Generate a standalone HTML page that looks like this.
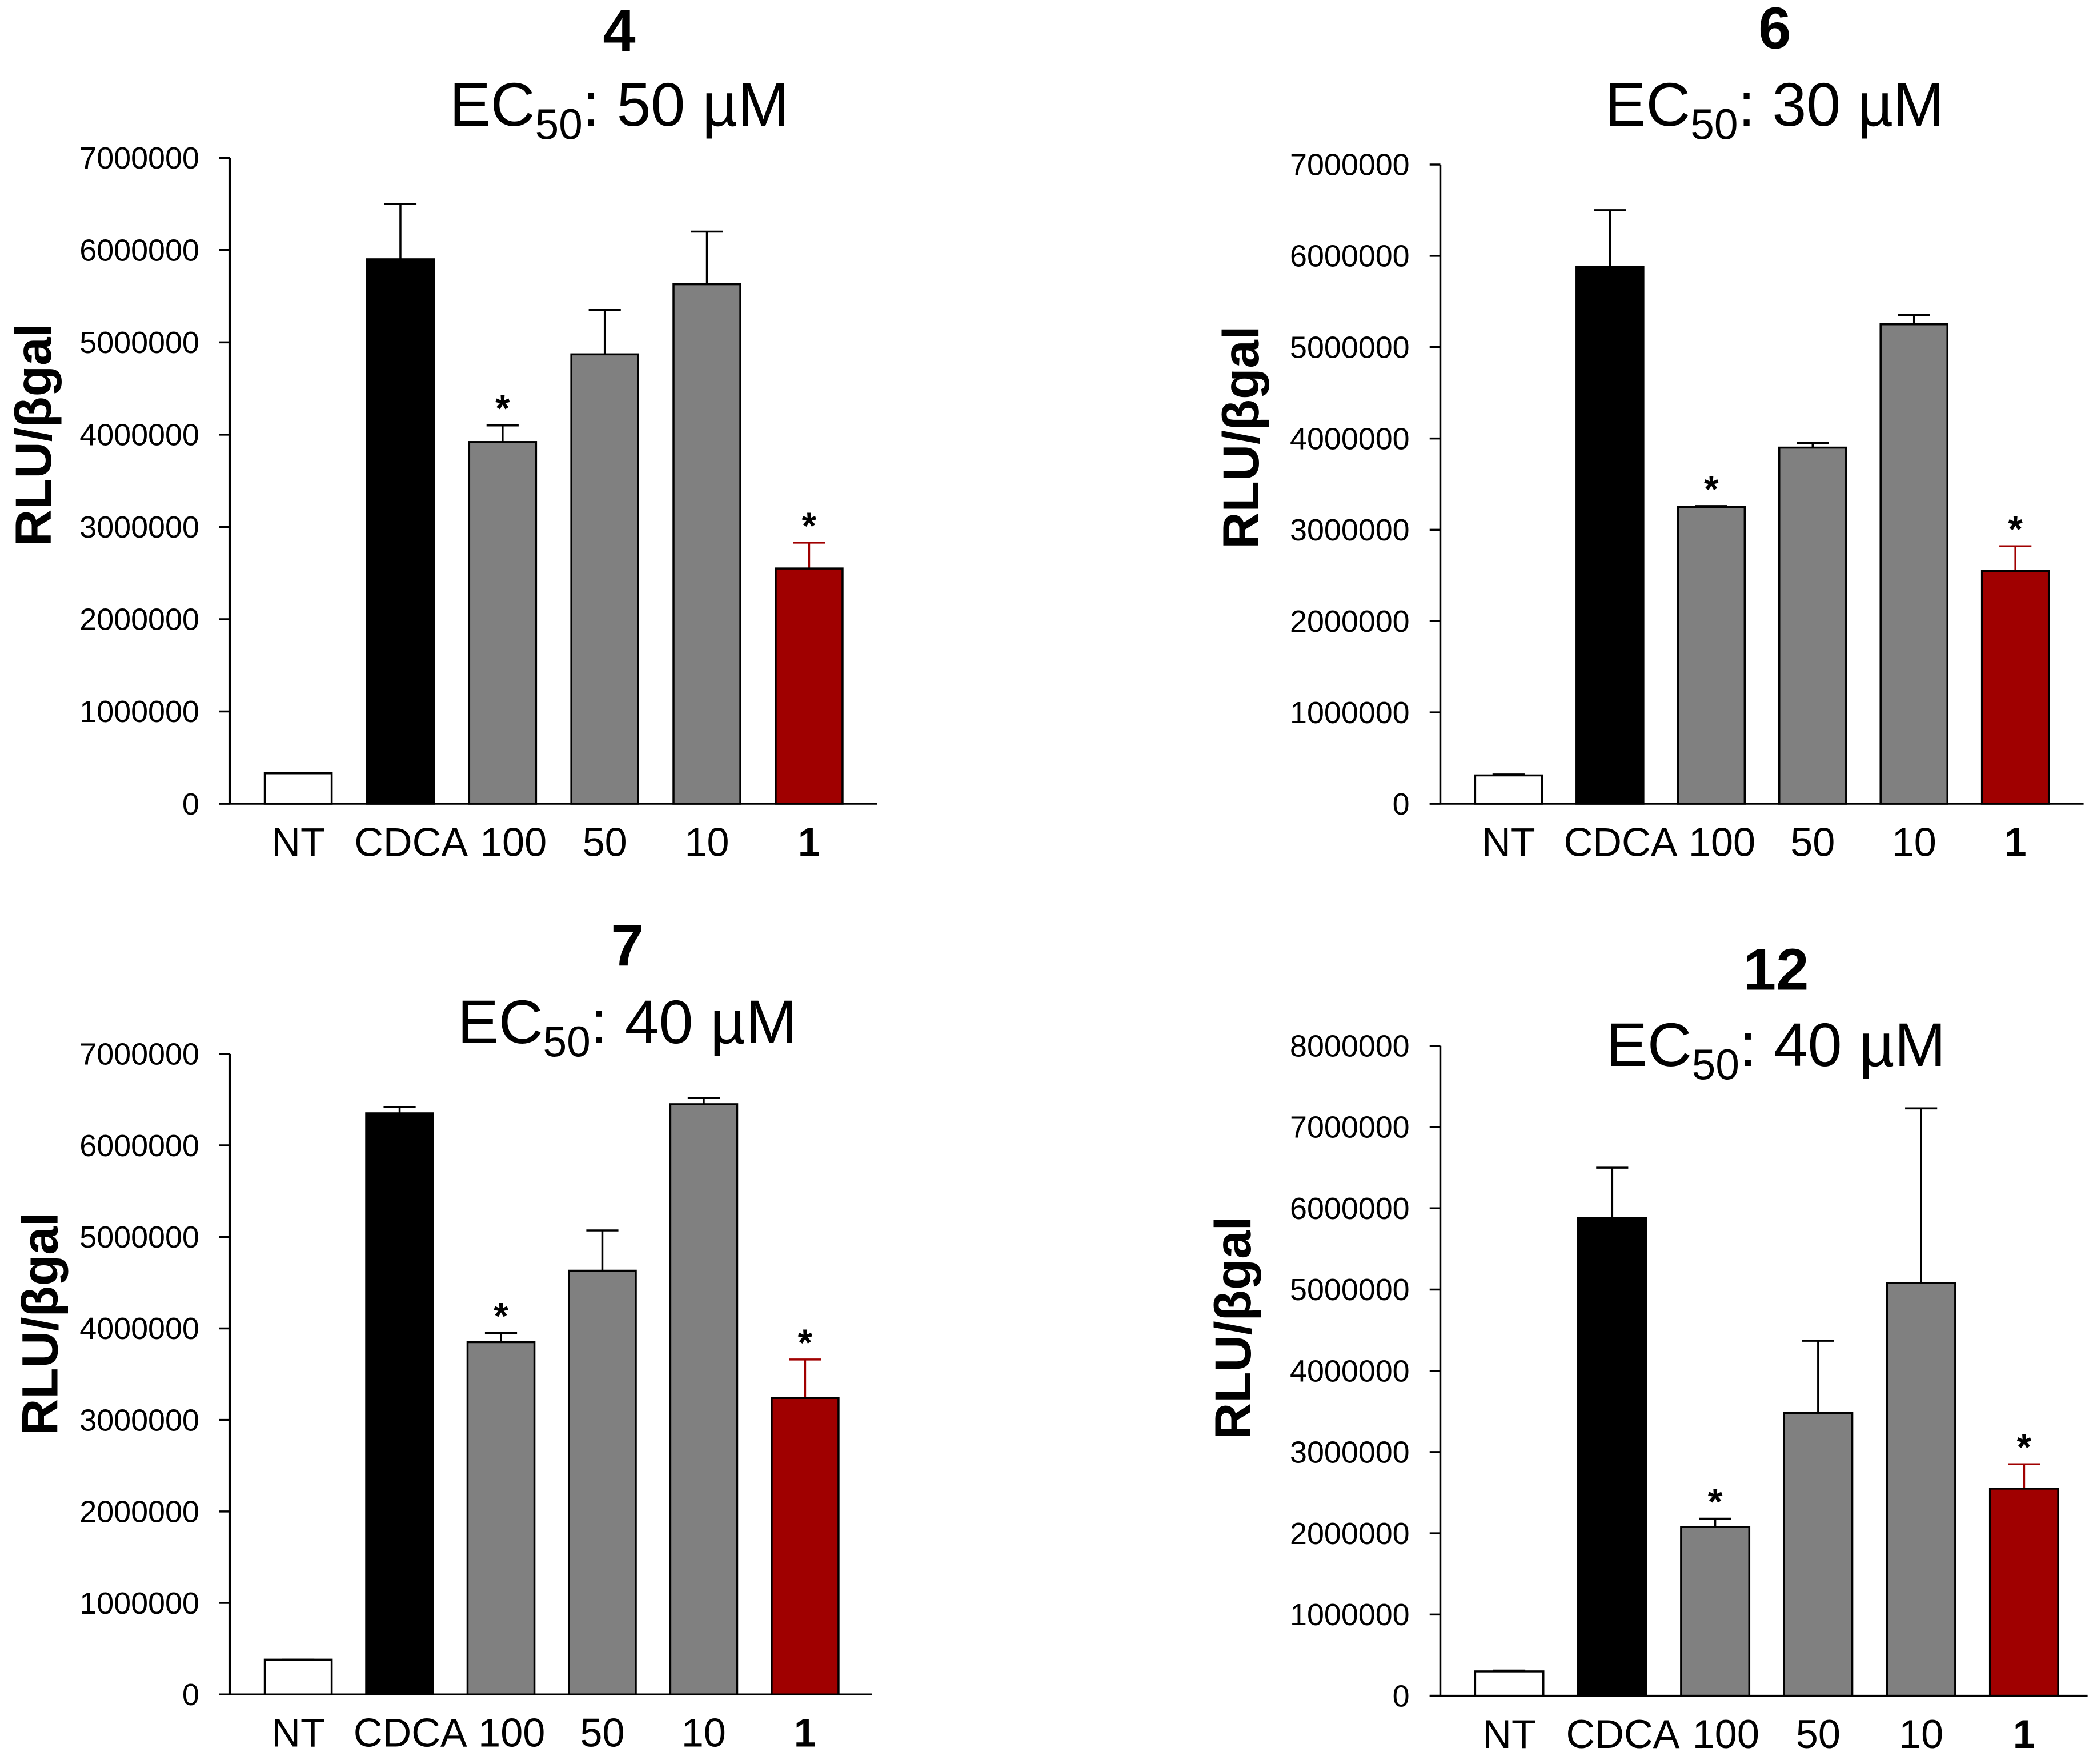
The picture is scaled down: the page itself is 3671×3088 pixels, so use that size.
<!DOCTYPE html>
<html><head><meta charset="utf-8">
<style>
html,body{margin:0;padding:0;background:#fff;}
svg{display:block;}
text{font-family:"Liberation Sans",Arial,sans-serif;}
</style></head>
<body>
<svg id="chart" width="3671" height="3088" viewBox="0 0 1568 1319" preserveAspectRatio="none" xmlns="http://www.w3.org/2000/svg"></svg>
<script>
const categories = ["NT","CDCA","100","50","10","1"];
const valuesP4 = [330000,5900000,3920000,4870000,5630000,2550000];
const errorsP4 = [330000,6500000,4100000,5350000,6200000,2830000];
const valuesP6 = [310000,5880000,3250000,3900000,5250000,2550000];
const errorsP6 = [320000,6500000,3260000,3950000,5350000,2820000];
const valuesP7 = [380000,6350000,3850000,4630000,6450000,3240000];
const errorsP7 = [380000,6420000,3950000,5070000,6520000,3660000];
const valuesP12 = [300000,5880000,2080000,3480000,5080000,2550000];
const errorsP12 = [310000,6500000,2180000,4370000,7230000,2850000];
const starsP4 = [false,false,true,false,false,true];
const starsP6 = [false,false,true,false,false,true];
const starsP7 = [false,false,true,false,false,true];
const starsP12 = [false,false,true,false,false,true];
const ticks7 = [0,1000000,2000000,3000000,4000000,5000000,6000000,7000000];
const ticks8 = [0,1000000,2000000,3000000,4000000,5000000,6000000,7000000,8000000];

const NS="http://www.w3.org/2000/svg";
const svg=document.getElementById('chart');
function mk(tag,attrs,parent){const e=document.createElementNS(NS,tag);for(const k in attrs)e.setAttribute(k,attrs[k]);(parent||svg).appendChild(e);return e;}

const panels=[
 {id:"4",ec:"50",vals:valuesP4,errs:errorsP4,stars:starsP4,ticks:ticks7,max:7000000,ax:172,y0:601,yTop:118,xEnd:656,bx0:198,step:76.4,bw:50,tx:463,ty1:38,ty2:94,lx:25,ly:325},
 {id:"6",ec:"30",vals:valuesP6,errs:errorsP6,stars:starsP6,ticks:ticks7,max:7000000,ax:1077,y0:601,yTop:123,xEnd:1558,bx0:1103,step:75.8,bw:50,tx:1327,ty1:36,ty2:94,lx:928,ly:327},
 {id:"7",ec:"40",vals:valuesP7,errs:errorsP7,stars:starsP7,ticks:ticks7,max:7000000,ax:172,y0:1267,yTop:788,xEnd:652,bx0:198,step:75.8,bw:50,tx:469,ty1:722,ty2:780,lx:30,ly:990},
 {id:"12",ec:"40",vals:valuesP12,errs:errorsP12,stars:starsP12,ticks:ticks8,max:8000000,ax:1077,y0:1268,yTop:782,xEnd:1561,bx0:1103,step:77,bw:51,tx:1328,ty1:740,ty2:797,lx:922,ly:993}
];
const fills=["#ffffff","#000000","#808080","#808080","#808080","#a00000"];

panels.forEach(p=>{
  const g=mk('g',{});
  
  
  const yS=v=>p.y0-(v/p.max)*(p.y0-p.yTop);
  const t1=mk('text',{x:p.tx,y:p.ty1,'text-anchor':'middle','font-size':44,'font-weight':'bold'},g);
  t1.textContent=p.id;
  
  
  const t2=mk('text',{x:p.tx,y:p.ty2,'text-anchor':'middle','font-size':46},g);
  
  
  const s1=mk('tspan',{},t2);s1.textContent="EC";
  const s2=mk('tspan',{'font-size':32,dy:10},t2);s2.textContent="50";
  const s3=mk('tspan',{dy:-10},t2);s3.textContent=": "+p.ec+" \u00b5M";
  const yl=mk('text',{x:0,y:0,transform:`translate(${p.lx+13},${p.ly}) rotate(-90)`,'text-anchor':'middle','font-size':38,'font-weight':'bold'},g);
  yl.textContent="RLU/\u03b2gal";
  
  
  const ya=mk('line',{x1:p.ax,y1:yS(p.max),x2:p.ax,y2:p.y0,stroke:'#000','stroke-width':1.5},g);
  
  
  const xa=mk('line',{x1:p.ax-8,y1:p.y0,x2:p.xEnd,y2:p.y0,stroke:'#000','stroke-width':1.5},g);
  
  
  p.ticks.forEach(t=>{
    const y=yS(t);
    const tk=mk('line',{x1:p.ax-8,y1:y,x2:p.ax,y2:y,stroke:'#000','stroke-width':1.5},g);
    
    
    const tl=mk('text',{x:p.ax-23,y:y+8,'text-anchor':'end','font-size':23},g);
    tl.textContent=String(t);
    
    
  });
  categories.forEach((c,i)=>{
    const x=p.bx0+i*p.step;
    const yt=yS(p.vals[i]);
    const col=i===5?'#a00000':'#000';
    const ye=yS(p.errs[i]);
    const el=mk('line',{x1:x+p.bw/2,y1:ye,x2:x+p.bw/2,y2:yt,stroke:col,'stroke-width':1.5},g);
    
    
    const ec=mk('line',{x1:x+p.bw/2-12,y1:ye,x2:x+p.bw/2+12,y2:ye,stroke:col,'stroke-width':1.5},g);
    
    
    const r=mk('rect',{x:x,y:yt,width:p.bw,height:p.y0-yt,fill:fills[i],stroke:'#000','stroke-width':1.5},g);
    
    
    if(p.stars[i]){
      const st=mk('text',{x:x+p.bw/2,y:ye-3,'text-anchor':'middle','font-size':28,'font-weight':'bold'},g);
      st.textContent="*";
      
      
    }
    const xl=mk('text',{x:x+p.bw/2+(i===1?8:(i===2?8:0)),y:p.y0+39,'text-anchor':'middle','font-size':30,'font-weight':i===5?'bold':'normal'},g);
    xl.textContent=c;
    
    
  });
});
</script>
</body></html>
